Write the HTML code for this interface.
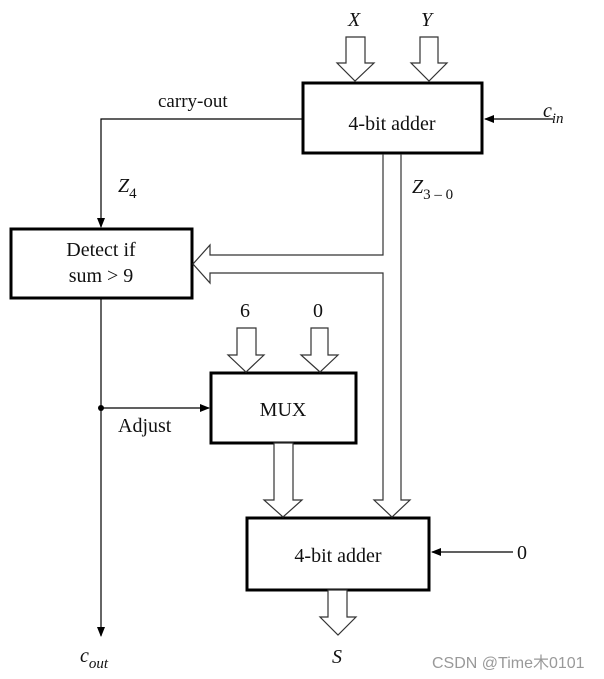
<!DOCTYPE html>
<html><head><style>
html,body{margin:0;padding:0;background:#fff;width:604px;height:679px;overflow:hidden}
svg text{font-family:"Liberation Serif",serif;fill:#111}
</style></head><body>
<svg width="604" height="679" viewBox="0 0 604 679" xmlns="http://www.w3.org/2000/svg">
<defs>
<marker id="ah" markerWidth="10" markerHeight="8" refX="9" refY="4" orient="auto" markerUnits="userSpaceOnUse">
<path d="M0,0 L10,4 L0,8 Z" fill="#000"/></marker>
</defs>
<g fill="none" stroke="#000">
<!-- boxes -->
<rect x="303" y="83" width="179" height="70" stroke-width="3"/>
<rect x="11" y="229" width="181" height="69" stroke-width="3"/>
<rect x="211" y="373" width="145" height="70" stroke-width="3"/>
<rect x="247" y="518" width="182" height="72" stroke-width="3"/>
</g>
<g fill="#fff" stroke="#333" stroke-width="1.2">
<!-- X,Y -->
<path d="M346,37 V63 H337 L355,81 L374,63 H365 V37 Z"/>
<path d="M420,37 V63 H411 L429,81 L447,63 H438 V37 Z"/>
<!-- 6, 0 -->
<path d="M237,328 V355 H228 L246,372 L264,355 H256 V328 Z"/>
<path d="M311,328 V355 H301 L320,372 L338,355 H328 V328 Z"/>
<!-- MUX out -->
<path d="M274,443 V500 H264 L283,517 L302,500 H293 V443 Z"/>
<!-- S -->
<path d="M328,590 V617 H320 L338,635 L356,617 H347 V590 Z"/>
</g>
<g fill="none" stroke="#333" stroke-width="1.2">
<!-- Z bus -->
<path d="M383,154 V255 H210 V245 L193,264 L210,283 V273 H383 V500 H374 L392,517 L410,500 H401 V154"/>
</g>
<g fill="none" stroke="#000" stroke-width="1.2">
<path d="M302,119 H101 V227" marker-end="url(#ah)"/>
<path d="M553,119 H485" marker-end="url(#ah)"/>
<path d="M101,299 V636" marker-end="url(#ah)"/>
<path d="M101,408 H209" marker-end="url(#ah)"/>
<path d="M513,552 H432" marker-end="url(#ah)"/>
</g>
<circle cx="101" cy="408" r="3" fill="#000"/>
<g font-size="20">
<text x="348" y="26" font-style="italic">X</text>
<text x="421" y="26" font-style="italic">Y</text>
<text x="392" y="130" text-anchor="middle">4-bit adder</text>
<text x="158" y="107" font-size="19">carry-out</text>
<text x="118" y="192" font-style="italic">Z<tspan font-size="15" font-style="normal" dy="6">4</tspan></text>
<text x="412" y="193" font-style="italic">Z<tspan font-size="15" font-style="normal" dy="6">3 – 0</tspan></text>
<text x="543" y="117" font-style="italic">c<tspan font-size="15" dy="6">in</tspan></text>
<text x="101" y="256" text-anchor="middle">Detect if</text>
<text x="101" y="282" text-anchor="middle">sum &gt; 9</text>
<text x="240" y="317">6</text>
<text x="313" y="317">0</text>
<text x="283" y="416" text-anchor="middle">MUX</text>
<text x="118" y="432">Adjust</text>
<text x="338" y="562" text-anchor="middle">4-bit adder</text>
<text x="517" y="559">0</text>
<text x="80" y="662" font-style="italic">c<tspan font-size="15" dy="6">out</tspan></text>
<text x="332" y="663" font-style="italic">S</text>
</g>
<text x="432" y="668" font-size="16" style="font-family:'Liberation Sans','Noto Sans CJK SC',sans-serif;fill:#999">CSDN @Time木0101</text>
</svg>
</body></html>
